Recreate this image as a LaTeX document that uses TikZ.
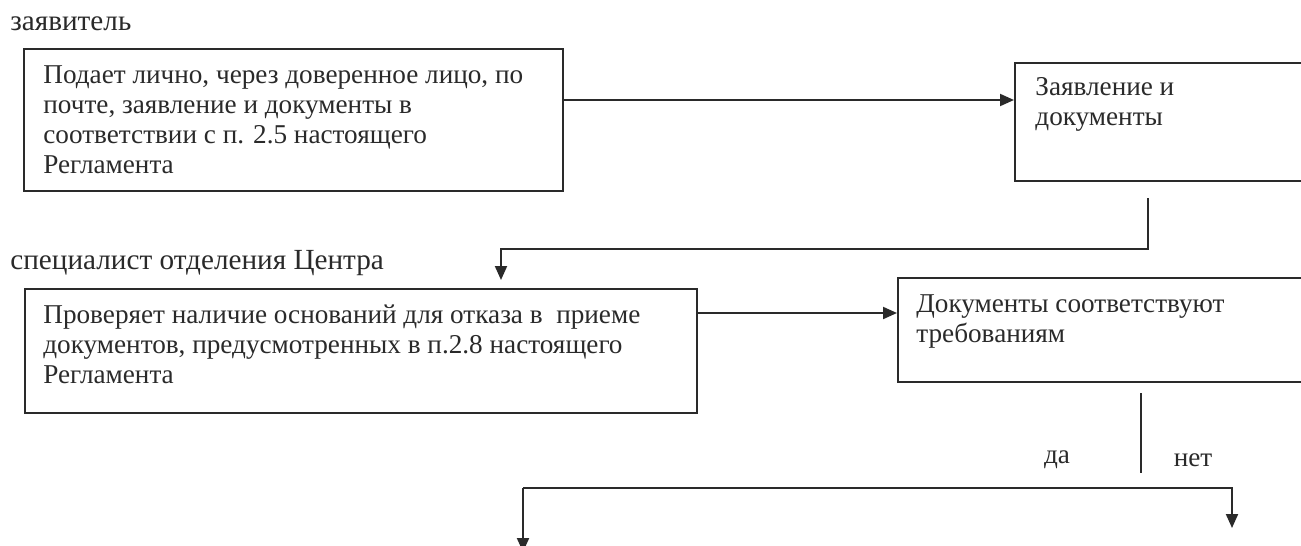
\documentclass[tikz,border=0pt]{standalone}
\usepackage{fontspec}
\setmainfont{Liberation Serif}
\usetikzlibrary{arrows.meta,calc}
\definecolor{ink}{HTML}{2A2A2A}
\begin{document}
\begin{tikzpicture}[x=0.5pt,y=-0.5pt,
  box/.style={draw=ink, line width=1pt, inner sep=0pt, anchor=north west},
  txt/.style={font=\fontsize{13.6}{15}\selectfont, text=ink, inner sep=0pt, anchor=north west, align=left},
  lbl/.style={font=\fontsize{14.6}{16}\selectfont, text=ink, inner sep=0pt},
  ans/.style={font=\fontsize{13.6}{15}\selectfont, text=ink, inner sep=0pt},
  conn/.style={draw=ink, line width=1pt},
  arr/.style={conn, -{Triangle[length=7pt,width=6pt]}}]
\clip (0,0) rectangle (1301,546);
\fill[white] (0,0) rectangle (1301,546);

% role labels
\node[lbl, anchor=base west] (r1) at (10,31) {заявитель};
\node[lbl, anchor=base west] (r2) at (10,269) {специалист отделения Центра};

% boxes
\node[box, minimum width=269.5pt, minimum height=71pt] (b1) at (23,48) {};
\node[box, minimum width=153pt, minimum height=59pt] (b2) at (1014,62) {};
\node[box, minimum width=336pt, minimum height=62pt] (b3) at (24,288) {};
\node[box, minimum width=211.5pt, minimum height=52pt] (b4) at (897,277) {};

% box texts
\node[txt] (t1) at (43,65) {Подает лично, через доверенное лицо, по\\почте, заявление и документы в\\соответствии с п. 2.5 настоящего\\Регламента};
\node[txt] (t2) at (1035,77) {Заявление и\\документы};
\node[txt] (t3) at (43,304) {Проверяет наличие оснований для отказа в\ \ приеме\\документов, предусмотренных в п.2.8 настоящего\\Регламента};
\node[txt] (t4) at (916,294) {Документы соответствуют\\требованиям};

% connectors
\coordinate (a1) at ($(b1.north east)+(0,52)$);
\draw[arr] (a1) -- (a1 -| b2.west);

\coordinate (c2s) at (1148,198);
\coordinate (c2m) at (1148,249);
\coordinate (c2e) at (501,280);
\draw[arr] (c2s) -- (c2m) -| (c2e);

\coordinate (a3) at ($(b3.north east)+(0,25)$);
\draw[arr] (a3) -- (a3 -| b4.west);

\coordinate (d1) at (1141,393);
\coordinate (d2) at (1141,473);
\draw[conn] (d1) -- (d2);
\node[ans] (yes) at (1057,460) {да};
\node[ans] (no) at (1193,460) {нет};

\coordinate (bl) at (523,488);
\coordinate (br) at (1232,488);
\coordinate (ble) at (523,552);
\coordinate (bre) at (1232,528);
\draw[arr] (bl) -- (br) -- (bre);
\draw[arr] (bl) -- (ble);
\end{tikzpicture}
\end{document}
